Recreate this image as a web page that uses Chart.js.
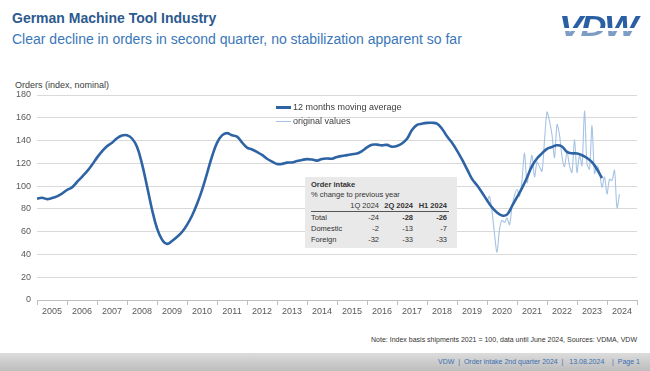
<!DOCTYPE html>
<html>
<head>
<meta charset="utf-8">
<script src="https://cdn.jsdelivr.net/npm/chart.js@4.4.0/dist/chart.umd.min.js"></script>
<style>
  body { margin: 0; width: 650px; height: 371px; position: relative; overflow: hidden; background: #fff; font-family: "Liberation Sans", Arial, sans-serif; }
  #title { position: absolute; left: 12px; top: 10px; font-size: 14px; font-weight: bold; color: #2c5a8f; }
  #subtitle { position: absolute; left: 12px; top: 31px; font-size: 14px; color: #3b77b8; }
  #logo { position: absolute; left: 559px; top: 9px; padding-right: 6px; font-size: 30px; font-weight: 900; font-style: italic; letter-spacing: -2px;
    background: linear-gradient(#2b5fa3 0 56%, #fff 56% 64%, #7d9cc4 64%); -webkit-background-clip: text; background-clip: text; color: transparent;
    transform: scaleX(1.2); transform-origin: left top; }
  #ylabel { position: absolute; left: 15px; top: 80px; font-size: 9px; color: #404040; }
  #chart { position: absolute; left: 0; top: 0; }
  .leg { position: absolute; left: 276px; font-size: 9px; color: #404040; white-space: nowrap; }
  .leg i { display: inline-block; width: 15px; vertical-align: middle; margin-right: 2px; }
  #table { position: absolute; left: 305px; top: 177px; width: 152px; height: 71px; background: #e9e9e9; font-size: 7.5px; color: #333; }
  #table .t { position: absolute; left: 6px; white-space: nowrap; }
  #table .c { position: absolute; text-align: right; white-space: nowrap; }
  #table .rule { position: absolute; left: 6px; width: 138px; top: 34px; border-top: 1px solid #555; }
  #note { position: absolute; right: 13px; top: 336px; font-size: 7px; color: #333; }
  #footer { position: absolute; left: 0; top: 353px; width: 650px; height: 18px; background: linear-gradient(#dcdcdc, #bdbdbd); }
  #footer span { position: absolute; left: 438px; top: 5px; font-size: 7px; color: #3a6fb0; white-space: pre; }
</style>
</head>
<body>
<div id="title">German Machine Tool Industry</div>
<div id="subtitle">Clear decline in orders in second quarter, no stabilization apparent so far</div>
<div id="logo">VDW</div>
<div id="ylabel">Orders (index, nominal)</div>
<canvas id="chart" width="650" height="330"></canvas>
<div class="leg" style="top:102px"><i style="height:3px;background:#2e63a4"></i>12 months moving average</div>
<div class="leg" style="top:116px"><i style="height:1px;background:#a6c3e4"></i>original values</div>
<div id="table"></div>
<div id="note">Note: Index basis shipments 2021 = 100, data until June 2024, Sources: VDMA, VDW</div>
<div id="footer"><span>VDW  |  Order intake 2nd quarter 2024  |   13.08.2024    |  Page 1</span></div>
<script>
// tick labels (one per year slot)
const years = [2005, 2006, 2007, 2008, 2009, 2010, 2011, 2012, 2013, 2014,
               2015, 2016, 2017, 2018, 2019, 2020, 2021, 2022, 2023, 2024];

// 12 months moving average, read every 2 months from Jan 2005
const maStartYear = 2005;
const maStepMonths = 2;
const maValues = [
  89, 89.8, 88.6, 89.5, 91, 93.4,
  96.6, 98.9, 103.6, 108.2, 113, 118.7,
  125, 130.5, 135, 138, 142, 144.4,
  144.6, 141.8, 134.5, 119.5, 100, 79.5,
  63, 53, 49.3, 51.8, 55.4, 59.7,
  66, 74, 84.3, 96.5, 111, 126,
  138, 144.5, 146.5, 144.6, 143.5, 138.5,
  133.8, 132.2, 130, 127.4, 124, 121.5,
  119.5, 119.5, 120.6, 120.8, 122, 123,
  123.7, 123.3, 122.4, 123.8, 124.2, 124.1,
  125.6, 126.5, 127.2, 128, 128.6, 130.8,
  134, 136.3, 136.4, 135.8, 136.2, 134.6,
  135.2, 137.4, 141.5, 149.3, 153.8, 154.8,
  155.5, 155.6, 154.9, 150.4, 143.7, 138,
  131.2, 123.4, 114.9, 106.4, 100.7, 94.4,
  87.6, 81.3, 76.8, 74.2, 75, 82.4,
  90.3, 98.3, 107.5, 117.5, 124.2, 128.7,
  132.7, 134.4, 135.9, 134.8, 130.1, 128.8,
  128.7, 127.1, 124.7, 121, 114.8, 107
];

// original monthly values, Jan 2020 - Jun 2024
const origStartYear = 2020;
const origValues = [
  86, 91, 78, 58, 42, 62, 70, 68, 72, 66, 82, 92,
  97, 91, 105, 129, 103, 115, 127, 108, 121, 117, 113, 140,
  165, 157, 145, 125, 154, 145, 126, 117, 130, 118, 112, 141,
  112, 127, 118, 166, 120, 115, 153, 111, 118, 112, 99, 108,
  93, 106, 105, 114, 81, 93
];

// order intake table
const tableCols = ['1Q 2024', '2Q 2024', 'H1 2024'];
const tableRows = ['Total', 'Domestic', 'Foreign'];
const tableValues = [[-24, -28, -26], [-2, -13, -7], [-32, -33, -33]];

// build the table box
const tbl = document.getElementById('table');
let html = '<div class="t" style="top:3px;font-weight:bold">Order intake</div>' +
           '<div class="t" style="top:13px">% change to previous year</div>' +
           '<div class="rule"></div>';
const colRight = [78, 44, 10]; // right offsets of the three columns
tableCols.forEach((c, j) => {
  html += `<div class="c" style="top:24px;right:${colRight[j]}px;${j > 0 ? 'font-weight:bold' : ''}">${c}</div>`;
});
tableRows.forEach((r, i) => {
  const top = 36 + i * 11;
  html += `<div class="t" style="top:${top}px">${r}</div>`;
  tableValues[i].forEach((v, j) => {
    const bold = (i === 0 && j > 0) ? 'font-weight:bold' : '';
    html += `<div class="c" style="top:${top}px;right:${colRight[j]}px;${bold}">${v}</div>`;
  });
});
tbl.innerHTML = html;

const maPoints = maValues.map((v, i) => ({ x: maStartYear + i * maStepMonths / 12, y: v }));
const origPoints = origValues.map((v, i) => ({ x: origStartYear + i / 12, y: v }));

const font = { family: '"Liberation Sans", Arial, sans-serif', size: 9 };

new Chart(document.getElementById('chart'), {
  type: 'line',
  data: {
    datasets: [
      {
        label: '12 months moving average',
        data: maPoints,
        borderColor: '#2e63a4',
        borderWidth: 2.6,
        pointRadius: 0,
        tension: 0.4,
        order: 0
      },
      {
        label: 'original values',
        data: origPoints,
        borderColor: '#a6c3e4',
        borderWidth: 1.1,
        pointRadius: 0,
        tension: 0.3,
        order: 1
      }
    ]
  },
  options: {
    responsive: false,
    animation: false,
    layout: { padding: { top: 95, right: 13, left: 0, bottom: 0 } },
    plugins: { legend: { display: false }, tooltip: { enabled: false } },
    scales: {
      x: {
        type: 'linear',
        min: 2005,
        max: 2025,
        grid: {
          drawOnChartArea: false,
          tickLength: 5,
          color: c => Number.isInteger(c.tick.value) ? '#bfbfbf' : 'rgba(0,0,0,0)'
        },
        border: { color: '#bfbfbf' },
        ticks: {
          stepSize: 0.5,
          autoSkip: false,
          maxRotation: 0,
          maxTicksLimit: 100,
          color: '#595959',
          font: font,
          padding: 1,
          callback: v => (v % 1 === 0.5) ? String(years[Math.floor(v) - 2005]) : ''
        },
        afterFit: s => { s.height = 30; }
      },
      y: {
        min: 0,
        max: 180,
        grid: { color: '#d9d9d9', drawTicks: false },
        border: { display: false },
        ticks: { stepSize: 20, color: '#595959', font: font, padding: 6 },
        afterFit: s => { s.width = 37; }
      }
    }
  }
});
</script>
</body>
</html>
